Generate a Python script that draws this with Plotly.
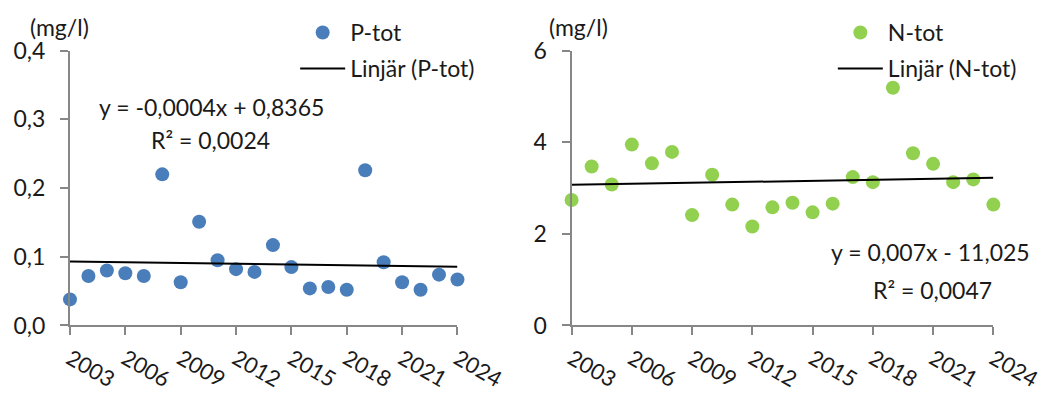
import numpy as np
import plotly.graph_objects as go

# Annual mean concentrations
years = list(range(2003, 2025))
p_tot = [0.038, 0.072, 0.080, 0.076, 0.072, 0.220, 0.063, 0.151, 0.095, 0.082,
         0.078, 0.117, 0.085, 0.054, 0.056, 0.052, 0.226, 0.092, 0.063, 0.052,
         0.074, 0.067]
n_tot = [2.74, 3.47, 3.08, 3.95, 3.54, 3.79, 2.41, 3.29, 2.64, 2.16,
         2.58, 2.68, 2.47, 2.66, 3.24, 3.13, 5.19, 3.76, 3.53, 3.13,
         3.19, 2.64]
x_ticks = list(range(2003, 2025, 3))

p_eq = ["y = -0,0004x + 0,8365", "R² = 0,0024"]
n_eq = ["y = 0,007x - 11,025", "R² = 0,0047"]

FONT = "Lato"
TXT = "#1a1a1a"
AX = "#878787"
BLUE = "#4A7EBB"
GREEN = "#92D050"
FS = 23

# least-squares linear trends
yr = np.array(years, dtype=float)
p_fit = np.polyval(np.polyfit(yr, p_tot, 1), [yr[0], yr[-1]])
n_fit = np.polyval(np.polyfit(yr, n_tot, 1), [yr[0], yr[-1]])

fig = go.Figure()
fig.add_trace(go.Scatter(x=years, y=p_tot, mode="markers", name="P-tot",
                         marker=dict(color=BLUE, size=14), cliponaxis=False,
                         xaxis="x", yaxis="y", legend="legend", legendgroup="a"))
fig.add_trace(go.Scatter(x=[years[0], years[-1]], y=list(p_fit), mode="lines",
                         name="Linjär (P-tot)", line=dict(color="black", width=2),
                         xaxis="x", yaxis="y", legend="legend", legendgroup="b"))
fig.add_trace(go.Scatter(x=years, y=n_tot, mode="markers", name="N-tot",
                         marker=dict(color=GREEN, size=14), cliponaxis=False,
                         xaxis="x2", yaxis="y2", legend="legend2", legendgroup="c"))
fig.add_trace(go.Scatter(x=[years[0], years[-1]], y=list(n_fit), mode="lines",
                         name="Linjär (N-tot)", line=dict(color="black", width=2),
                         xaxis="x2", yaxis="y2", legend="legend2", legendgroup="d"))

xcommon = dict(range=[2003, 2024], tickvals=x_ticks, tickangle=30,
               showline=True, linecolor=AX, linewidth=2, ticks="outside",
               ticklen=8, tickwidth=2, tickcolor=AX, showgrid=False,
               zeroline=False, automargin=False, ticklabeloverflow="allow",
               ticklabelstandoff=2,
               tickfont=dict(family=FONT, size=22, color=TXT))
ycommon = dict(showline=True, linecolor=AX, linewidth=2, ticks="outside",
               ticklen=8, tickwidth=2, tickcolor=AX, showgrid=False,
               zeroline=False, automargin=False, ticklabeloverflow="allow",
               ticklabelstandoff=10,
               tickfont=dict(family=FONT, size=FS, color=TXT))

legcommon = dict(font=dict(family=FONT, size=FS, color=TXT), bgcolor="rgba(0,0,0,0)",
                 traceorder="grouped", tracegroupgap=3, xanchor="left",
                 yanchor="top", itemwidth=45)

fig.update_layout(
    width=1043, height=394,
    margin=dict(l=0, r=0, t=0, b=0, autoexpand=False),
    paper_bgcolor="white", plot_bgcolor="white",
    separators=", ",
    font=dict(family=FONT, size=FS, color=TXT),
    xaxis=dict(domain=[0.0671, 0.4386], anchor="y", **xcommon),
    yaxis=dict(domain=[0.1739, 0.8713], anchor="x", range=[0, 0.4], dtick=0.1,
               tickformat=".1f", **ycommon),
    xaxis2=dict(domain=[0.548, 0.9524], anchor="y2", **xcommon),
    yaxis2=dict(domain=[0.1739, 0.8713], anchor="x2", range=[0, 6], dtick=2,
                tickformat="d", **ycommon),
    legend=dict(x=0.283, y=0.972, **legcommon),
    legend2=dict(x=0.7985, y=0.972, **legcommon),
)

annots = [
    dict(text="(mg/l)", xref="paper", yref="paper", x=59 / 1043, y=1 - 27 / 394),
    dict(text="(mg/l)", xref="paper", yref="paper", x=578 / 1043, y=1 - 27 / 394),
    dict(text=p_eq[0], xref="x", yref="y", x=2010.65, y=0.318),
    dict(text=p_eq[1], xref="x", yref="y", x=2010.6, y=0.270),
    dict(text=n_eq[0], xref="x2", yref="y2", x=2020.86, y=1.61),
    dict(text=n_eq[1], xref="x2", yref="y2", x=2020.96, y=0.777),
]
for a in annots:
    fig.add_annotation(showarrow=False, xanchor="center", yanchor="middle",
                       font=dict(family=FONT, size=FS, color=TXT), **a)

fig.write_html("out.html")
